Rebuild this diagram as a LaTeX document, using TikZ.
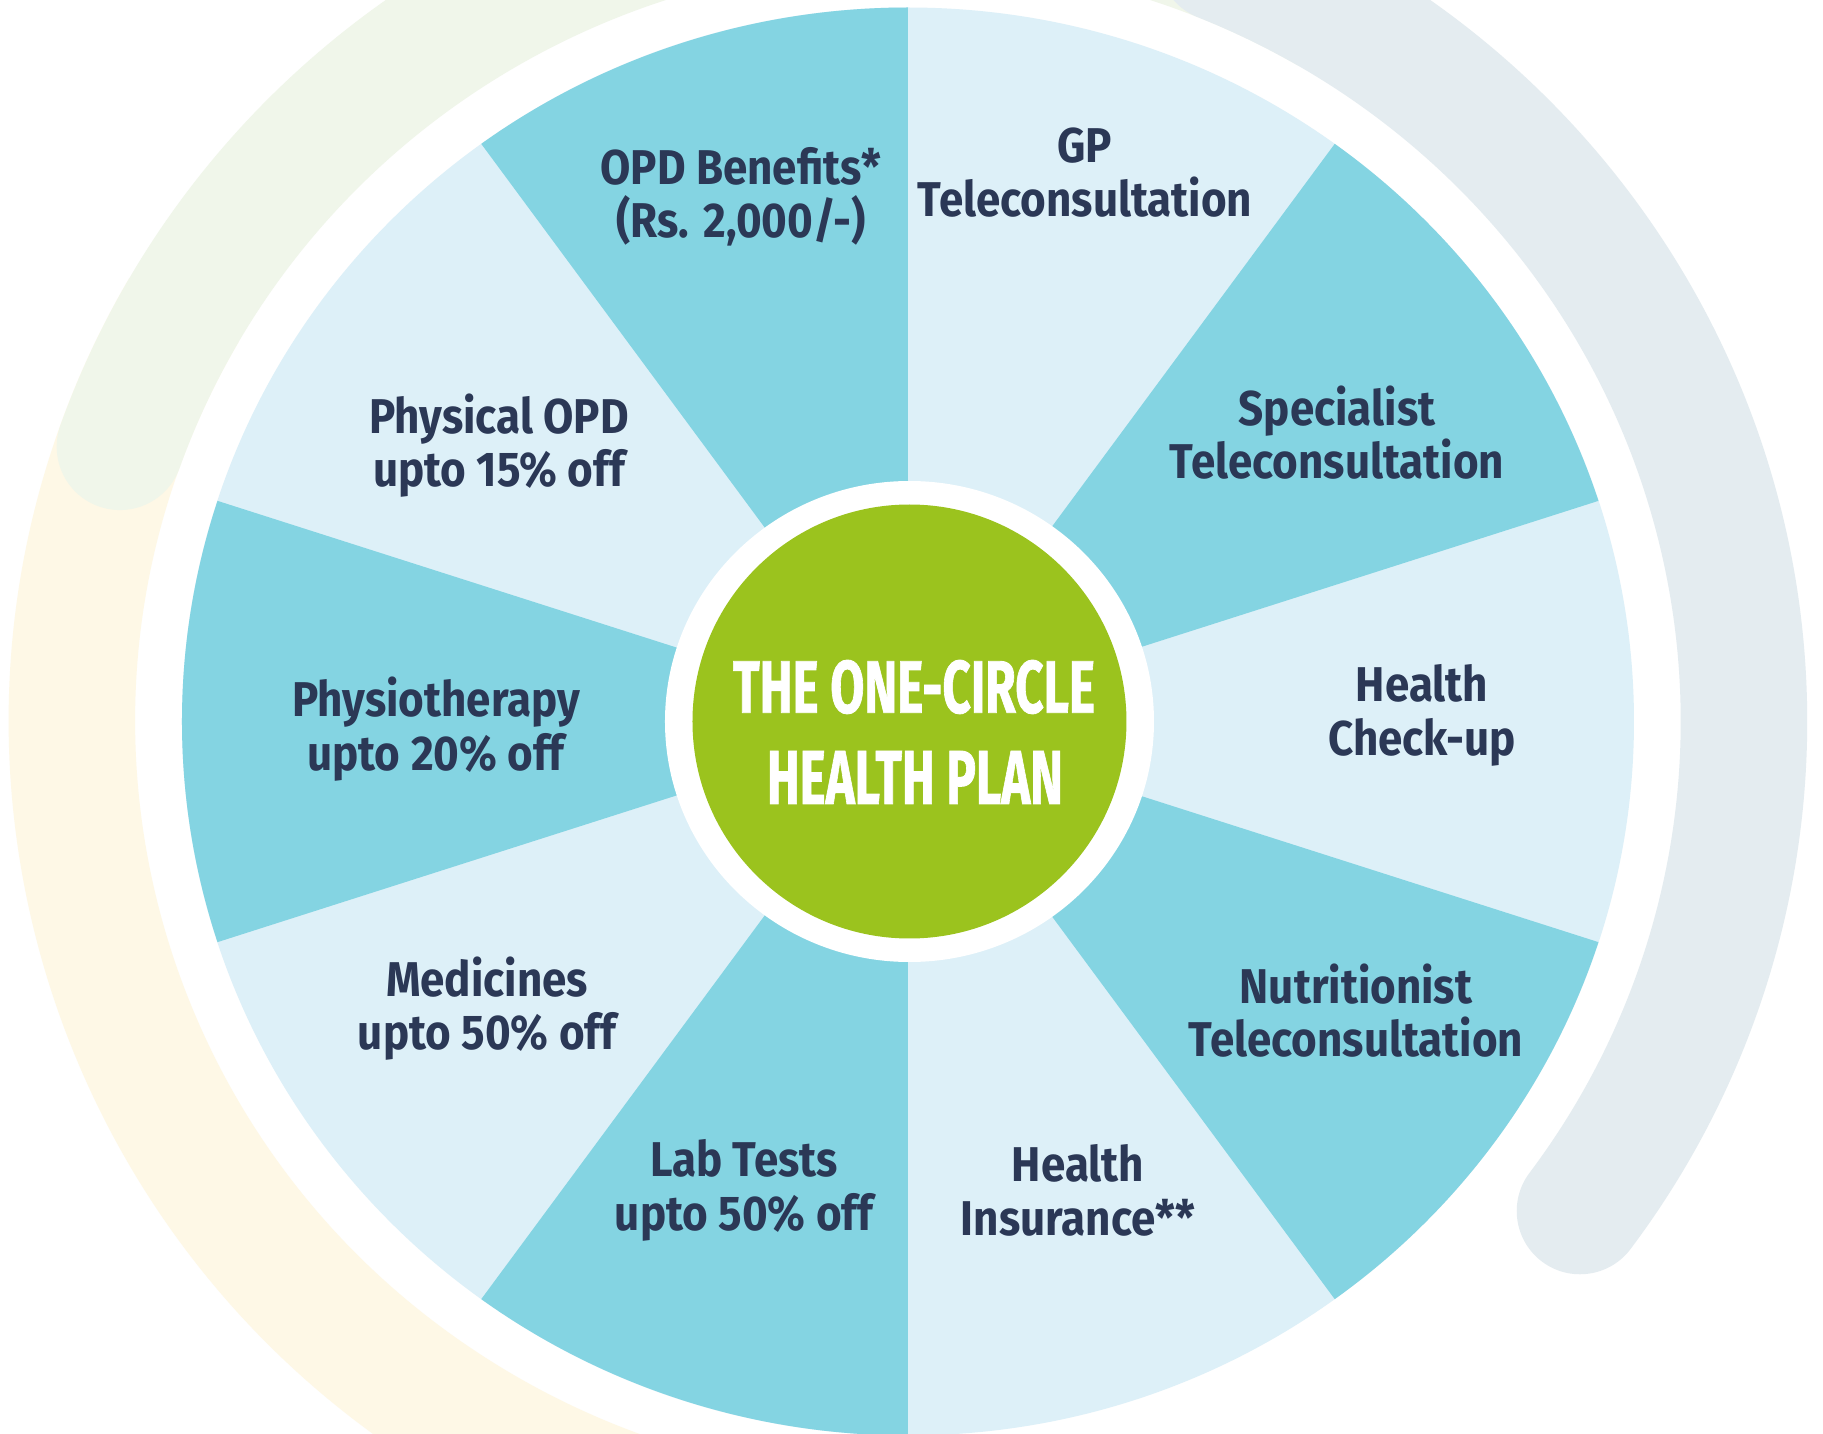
\documentclass[tikz,border=0pt]{standalone}
\usepackage{fontspec}
\usepackage{graphicx}
\setmainfont{Fira Sans}[FakeStretch=0.9]
\newfontfamily\planfont{Fira Sans}[FakeBold=1.2]

\definecolor{navy}{HTML}{2B3856}
\definecolor{segdark}{HTML}{84D4E2}
\definecolor{seglight}{HTML}{DDF0F8}
\definecolor{lime}{HTML}{9BC31E}
\definecolor{ringgreen}{HTML}{F0F6EA}
\definecolor{ringyellow}{HTML}{FEF8E6}
\definecolor{ringgrey}{HTML}{E4ECF0}

\begin{document}
\begin{tikzpicture}[
      every node/.append style={font=\bfseries\fontsize{13.9}{15.2}\selectfont,text=navy,align=center,inner sep=0pt},
      ring/.style={line width=12.65mm},
      wedge/.style={fill=segdark}]
    \tikzstyle{benefit} = [anchor=center]
    \tikzstyle{plantext} = [text=white,font=\planfont\bfseries]
    \useasboundingbox (-9.08,-7.125) rectangle (9.15,7.215);
    \clip (-9.08,-7.125) rectangle (9.15,7.215);
    \fill[white] (-9.08,-7.125) rectangle (9.15,7.215);
    % outer rings
    \draw[ring,ringyellow] (150:8.36 and 8.23) arc[start angle=150,end angle=280,x radius=8.36,y radius=8.23];
    \draw[ring,ringgreen,line cap=round] (60:8.36 and 8.23) arc[start angle=60,end angle=160.5,x radius=8.36,y radius=8.23];
    \draw[ring,ringgrey,line cap=round] (68:8.36 and 8.23) arc[start angle=68,end angle=-36.5,x radius=8.36,y radius=8.23];
    % wheel
    \fill[seglight] (0,0) ellipse[x radius=7.26,y radius=7.14];
    \foreach \a in {18,90,162,234,306}
      \fill[wedge] (0,0) -- (\a:7.26 and 7.14) arc[start angle=\a,end angle=\a+36,x radius=7.26,y radius=7.14] -- cycle;
    \fill[white] (0.015,0) ellipse[x radius=2.445,y radius=2.405];
    \fill[lime] (0.015,0) circle[radius=2.17];
    \node (plantop) [plantext] at (0.06,0.345) {\resizebox*{3.62cm}{0.54cm}{THE ONE-CIRCLE}};
    \node (planbottom) [plantext] at (0.07,-0.56) {\resizebox*{2.96cm}{0.53cm}{HEALTH PLAN}};
    % benefits
    \node (opd) [benefit] at (-1.67,5.25) {OPD Benefits*\\(Rs. 2,000/-)};
    \node (gp) [benefit] at (1.77,5.49) {GP\\Teleconsultation};
    \node (specialist) [benefit] at (4.29,2.89) {Specialist\\Teleconsultation};
    \node (checkup) [benefit] at (5.14,0.06) {Health\\Check-up};
    \node (nutritionist) [benefit] at (4.48,-2.89) {Nutritionist\\Teleconsultation};
    \node (insurance) [benefit] at (1.70,-4.69) {Health\\Insurance**};
    \node (labtests) [benefit] at (-1.64,-4.69) {Lab Tests\\upto 50\% off};
    \node (medicines) [benefit] at (-4.21,-2.87) {Medicines\\upto 50\% off};
    \node (physio) [benefit] at (-4.72,-0.075) {Physiotherapy\\upto 20\% off};
    \node (physical) [benefit] at (-4.09,2.76) {Physical OPD\\upto 15\% off};
\end{tikzpicture}
\end{document}
